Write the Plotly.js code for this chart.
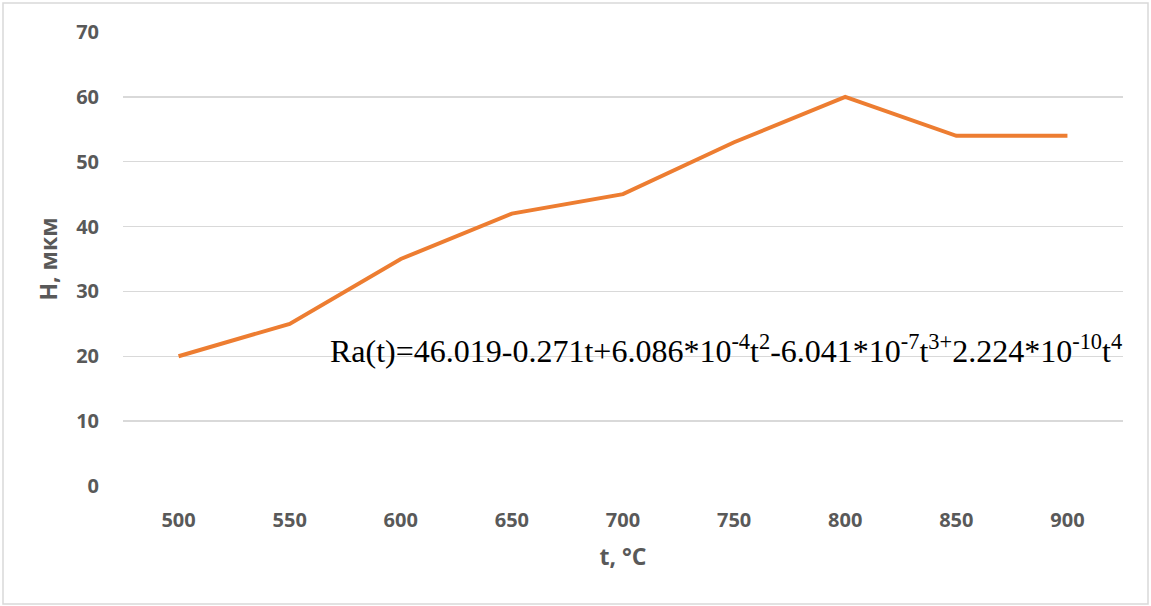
<!DOCTYPE html>
<html>
<head>
<meta charset="utf-8">
<script src="https://cdn.plot.ly/plotly-3.0.1.min.js"></script>
<style>
  html, body { margin: 0; padding: 0; background: #ffffff; }
  #chart { width: 1151px; height: 606px; }
</style>
</head>
<body>
<div id="chart"></div>
<script>
// Temperature, °C
const temperatures = ['500', '550', '600', '650', '700', '750', '800', '850', '900'];
// Layer thickness H, мкм
const thickness = [20, 25, 35, 42, 45, 53, 60, 54, 54];
const yTicks = [0, 10, 20, 30, 40, 50, 60, 70];

const tickFont = { family: 'Open Sans, sans-serif', size: 20, color: '#595959', weight: 'bold' };
const titleFont = { family: 'Open Sans, sans-serif', size: 23, color: '#595959', weight: 'bold' };

const trace = {
  type: 'scatter',
  mode: 'lines',
  x: temperatures,
  y: thickness,
  line: { color: '#ED7D31', width: 4 },
  hoverinfo: 'x+y'
};

const layout = {
  width: 1151,
  height: 606,
  margin: { l: 123, r: 28, t: 32, b: 120 },
  paper_bgcolor: '#ffffff',
  plot_bgcolor: '#ffffff',
  showlegend: false,
  xaxis: {
    type: 'category',
    range: [-0.5, 8.5],
    showgrid: false,
    zeroline: false,
    showline: false,
    ticks: '',
    tickfont: tickFont,
    ticklabelstandoff: 20,
    title: { text: 't, °C', font: titleFont, standoff: 16 }
  },
  yaxis: {
    range: [0, 70],
    tickvals: yTicks,
    showgrid: true,
    gridcolor: '#d9d9d9',
    gridwidth: 1.5,
    zeroline: false,
    showline: false,
    ticks: '',
    tickfont: tickFont,
    ticklabelstandoff: 23,
    title: { text: 'H, мкм', font: titleFont, standoff: 12 }
  },
  shapes: [{
    type: 'rect',
    xref: 'paper', yref: 'paper',
    x0: -0.12, x1: 1.025, y0: -0.26, y1: 1.0639,
    line: { color: '#d9d9d9', width: 1.5 },
    fillcolor: 'rgba(0,0,0,0)',
    layer: 'below'
  }],
  annotations: [{
    xref: 'paper', yref: 'y',
    x: 0.205, y: 21.2,
    xanchor: 'left', yanchor: 'middle',
    showarrow: false,
    text: 'Ra(t)=46.019-0.271t+6.086*10<sup>-4</sup>t<sup>2</sup>-6.041*10<sup>-7</sup>t<sup>3+</sup>2.224*10<sup>-10</sup>t<sup>4</sup>',
    font: { family: 'Liberation Serif, Times New Roman, serif', size: 32, color: '#000000' }
  }]
};

Plotly.newPlot('chart', [trace], layout, { displayModeBar: false, staticPlot: true });
</script>
</body>
</html>
